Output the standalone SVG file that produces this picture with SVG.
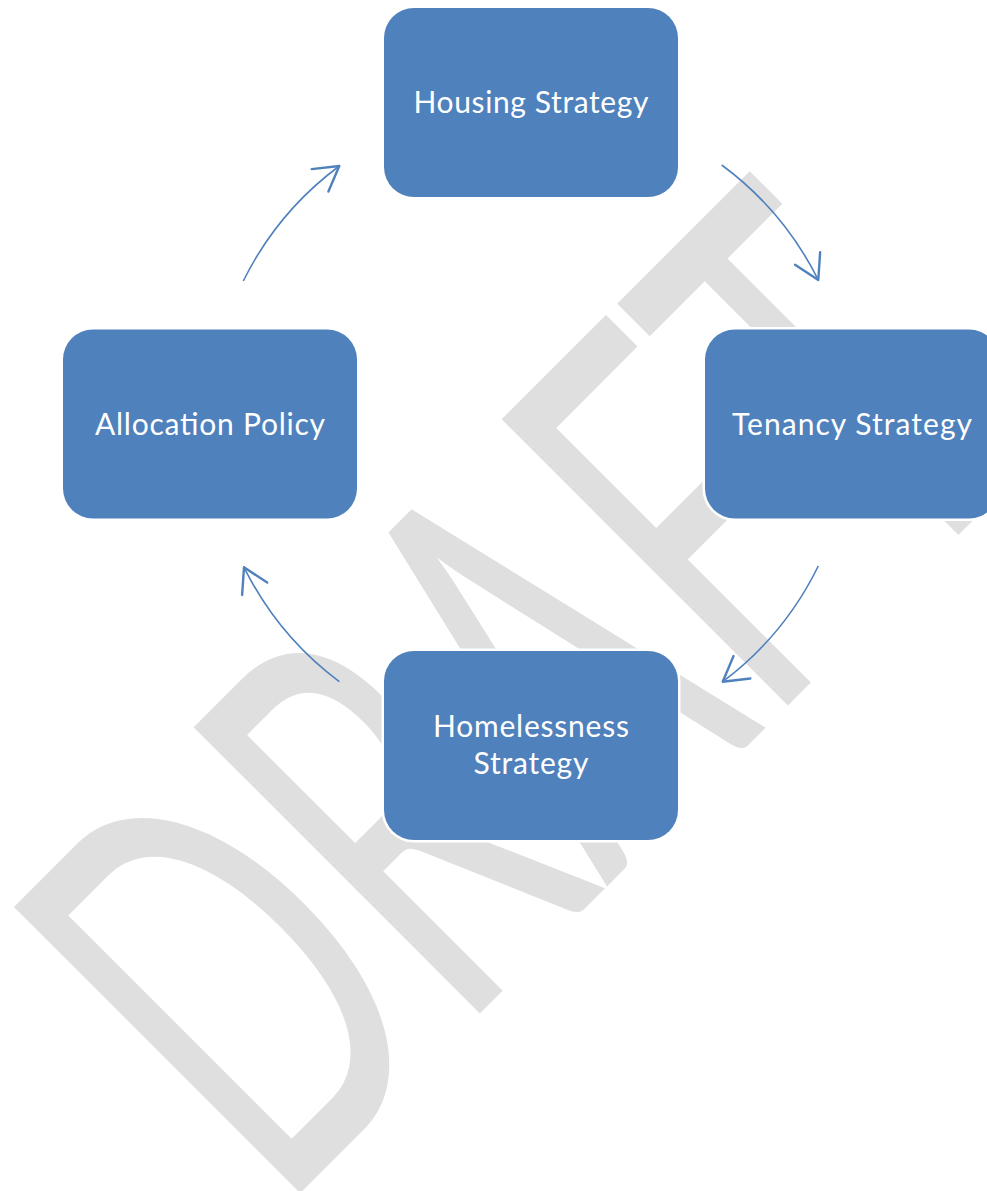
<svg xmlns="http://www.w3.org/2000/svg" width="987" height="1191" viewBox="0 0 987 1191">
  <style>
    .box { fill: #4F81BD; stroke: #FFFFFF; stroke-width: 5; paint-order: stroke; }
    .label { font-family: Lato, "Liberation Sans", sans-serif; font-size: 30px; fill: #FFFFFF; text-anchor: middle; }
    .link { fill: none; stroke: #4F81BD; stroke-width: 1.6; marker-end: url(#open-arrow); }
    .watermark { font-family: Lato, "Liberation Sans", sans-serif; font-size: 565px; fill: #DFDFDF; }
  </style>
  <defs>
    <marker id="open-arrow" markerUnits="userSpaceOnUse" markerWidth="40" markerHeight="40" viewBox="-25 -15 30 30" refX="0" refY="0" orient="auto" overflow="visible">
      <path d="M -18,-10.5 L 0,0 L -18,10.5" fill="none" stroke="#4F81BD" stroke-width="1.8" stroke-linecap="round" stroke-linejoin="round"/>
    </marker>
  </defs>

  <rect width="987" height="1191" fill="#FFFFFF"/>

  <!-- watermark, set diagonally behind the cycle -->
  <g id="watermark">
    <text class="watermark" transform="rotate(-45)" x="-662" y="1056" textLength="1076" lengthAdjust="spacingAndGlyphs">DRAFT</text>
  </g>

  <!-- cycle connectors: arcs on one circle round the centre of the cycle -->
  <g id="connectors">
    <path class="link" d="M 721.7,165 A 321 321 0 0 1 818.3,280"/>
    <path class="link" d="M 818.3,566 A 321 321 0 0 1 722.7,681.7"/>
    <path class="link" d="M 339.3,681.7 A 321 321 0 0 1 244,567.3"/>
    <path class="link" d="M 243.3,281 A 321 321 0 0 1 339.3,166"/>
  </g>

  <g id="housing-strategy">
    <rect class="box" x="384" y="8" width="294" height="189" rx="30" ry="30"/>
    <text class="label" x="531" y="113.3" textLength="235">Housing Strategy</text>
  </g>

  <g id="tenancy-strategy">
    <rect class="box" x="705" y="329.5" width="294" height="189" rx="30" ry="30"/>
    <text class="label" x="852" y="435" textLength="240">Tenancy Strategy</text>
  </g>

  <g id="homelessness-strategy">
    <rect class="box" x="384" y="651" width="294" height="189" rx="30" ry="30"/>
    <text class="label" x="531" y="736.5" textLength="196">Homelessness</text>
    <text class="label" x="531" y="774" textLength="115">Strategy</text>
  </g>

  <g id="allocation-policy">
    <rect class="box" x="63" y="329.5" width="294" height="189" rx="30" ry="30"/>
    <text class="label" x="210" y="435" textLength="230">Allocation Policy</text>
  </g>
</svg>
